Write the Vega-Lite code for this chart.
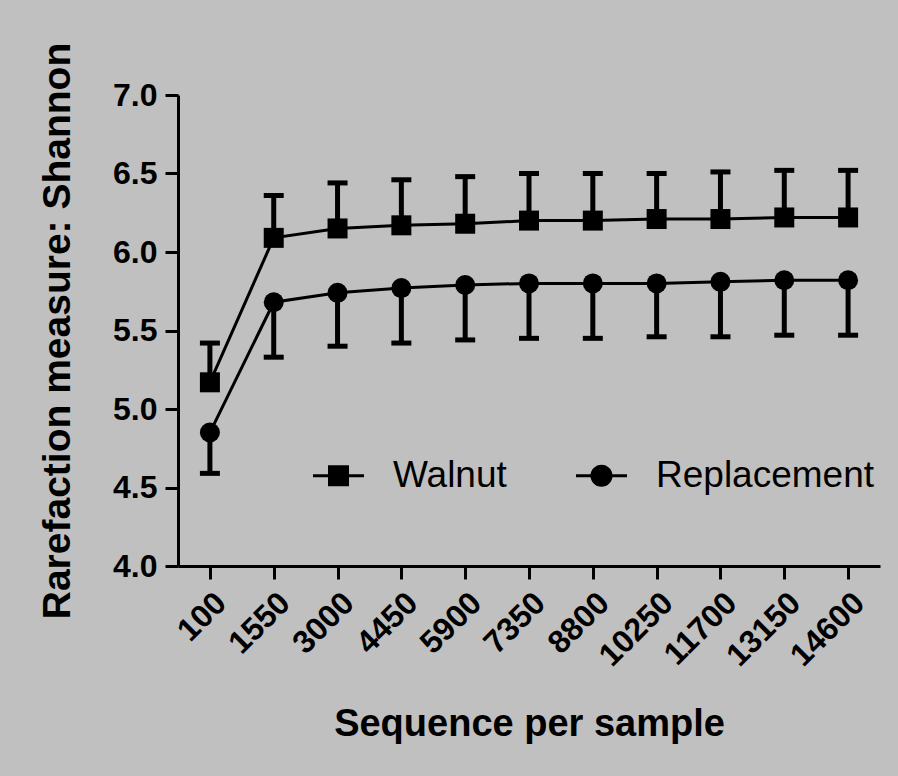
{
  "$schema": "https://vega.github.io/schema/vega-lite/v6.json",
  "width": 702,
  "height": 471,
  "autosize": {"type": "none"},
  "padding": {"left": 178, "top": 95, "right": 18, "bottom": 210},
  "background": "#c0c0c0",
  "config": {
    "view": {"stroke": null},
    "font": "Liberation Sans",
    "axis": {
      "domainColor": "black",
      "domainWidth": 3,
      "tickColor": "black",
      "tickWidth": 3,
      "tickSize": 13,
      "labelColor": "black",
      "labelFont": "Liberation Sans",
      "labelFontWeight": "bold",
      "labelFontSize": 32,
      "titleColor": "black",
      "titleFont": "Liberation Sans",
      "titleFontWeight": "bold",
      "grid": false
    }
  },
  "data": {
    "values": [
      {"seq": 100, "group": "Walnut", "mean": 5.17, "end": 5.42},
      {"seq": 1550, "group": "Walnut", "mean": 6.09, "end": 6.36},
      {"seq": 3000, "group": "Walnut", "mean": 6.15, "end": 6.44},
      {"seq": 4450, "group": "Walnut", "mean": 6.17, "end": 6.46},
      {"seq": 5900, "group": "Walnut", "mean": 6.18, "end": 6.48},
      {"seq": 7350, "group": "Walnut", "mean": 6.2, "end": 6.5},
      {"seq": 8800, "group": "Walnut", "mean": 6.2, "end": 6.5},
      {"seq": 10250, "group": "Walnut", "mean": 6.21, "end": 6.5},
      {"seq": 11700, "group": "Walnut", "mean": 6.21, "end": 6.51},
      {"seq": 13150, "group": "Walnut", "mean": 6.22, "end": 6.52},
      {"seq": 14600, "group": "Walnut", "mean": 6.22, "end": 6.52},
      {"seq": 100, "group": "Replacement", "mean": 4.85, "end": 4.59},
      {"seq": 1550, "group": "Replacement", "mean": 5.68, "end": 5.33},
      {"seq": 3000, "group": "Replacement", "mean": 5.74, "end": 5.4},
      {"seq": 4450, "group": "Replacement", "mean": 5.77, "end": 5.42},
      {"seq": 5900, "group": "Replacement", "mean": 5.79, "end": 5.44},
      {"seq": 7350, "group": "Replacement", "mean": 5.8, "end": 5.45},
      {"seq": 8800, "group": "Replacement", "mean": 5.8, "end": 5.45},
      {"seq": 10250, "group": "Replacement", "mean": 5.8, "end": 5.46},
      {"seq": 11700, "group": "Replacement", "mean": 5.81, "end": 5.46},
      {"seq": 13150, "group": "Replacement", "mean": 5.82, "end": 5.47},
      {"seq": 14600, "group": "Replacement", "mean": 5.82, "end": 5.47}
    ]
  },
  "encoding": {
    "x": {
      "field": "seq",
      "type": "ordinal",
      "scale": {"type": "point", "padding": 0.5},
      "axis": {
        "title": "Sequence per sample",
        "titleFontSize": 38,
        "labelAngle": -45,
        "labelAlign": "right",
        "labelBaseline": "top",
        "labelPadding": 8,
        "titlePadding": 34
      }
    }
  },
  "layer": [
    {
      "mark": {"type": "line", "color": "black", "strokeWidth": 3},
      "encoding": {
        "y": {
          "field": "mean",
          "type": "quantitative",
          "scale": {"domain": [4, 7], "nice": false, "zero": false},
          "axis": {
            "title": "Rarefaction measure: Shannon",
            "titleFontSize": 39,
            "values": [4, 4.5, 5, 5.5, 6, 6.5, 7],
            "format": ".1f",
            "labelPadding": 8,
            "titlePadding": 35
          }
        },
        "detail": {"field": "group"}
      }
    },
    {
      "mark": {"type": "rule", "color": "black", "strokeWidth": 5, "opacity": 1},
      "encoding": {
        "y": {"field": "mean", "type": "quantitative"},
        "y2": {"field": "end"}
      }
    },
    {
      "mark": {"type": "tick", "color": "black", "thickness": 5, "size": 20, "orient": "horizontal", "opacity": 1},
      "encoding": {
        "y": {"field": "end", "type": "quantitative"}
      }
    },
    {
      "transform": [{"filter": "datum.group === 'Walnut'"}],
      "mark": {"type": "point", "shape": "square", "filled": true, "color": "black", "opacity": 1, "size": 400},
      "encoding": {
        "y": {"field": "mean", "type": "quantitative"}
      }
    },
    {
      "transform": [{"filter": "datum.group === 'Replacement'"}],
      "mark": {"type": "point", "shape": "circle", "filled": true, "color": "black", "opacity": 1, "size": 400},
      "encoding": {
        "y": {"field": "mean", "type": "quantitative"}
      }
    },
    {
      "transform": [{"filter": "datum.group === 'none'"}],
      "mark": {"type": "point", "filled": true, "color": "black", "opacity": 1, "strokeWidth": 0},
      "encoding": {
        "y": {"field": "mean", "type": "quantitative"},
        "shape": {
          "field": "group",
          "type": "nominal",
          "scale": {
            "domain": ["Walnut", "Replacement"],
            "range": [
              "M-2.43,-0.14H2.43V0.14H-2.43ZM-1,-1H1V1H-1Z",
              "M-2.43,-0.14H2.43V0.14H-2.43ZM1.05,0A1.05,1.05,0,1,1,-1.05,0A1.05,1.05,0,1,1,1.05,0Z"
            ]
          },
          "legend": {
            "title": null,
            "orient": "none",
            "legendX": 142,
            "legendY": 362,
            "direction": "horizontal",
            "padding": 0,
            "labelFont": "Liberation Sans",
            "labelFontSize": 37,
            "labelFontWeight": "normal",
            "labelColor": "black",
            "labelLimit": 0,
            "labelOffset": 36,
            "columnPadding": 68,
            "symbolSize": 441,
            "symbolFillColor": "black",
            "symbolStrokeWidth": 0,
            "symbolOpacity": 1
          }
        }
      }
    }
  ]
}
